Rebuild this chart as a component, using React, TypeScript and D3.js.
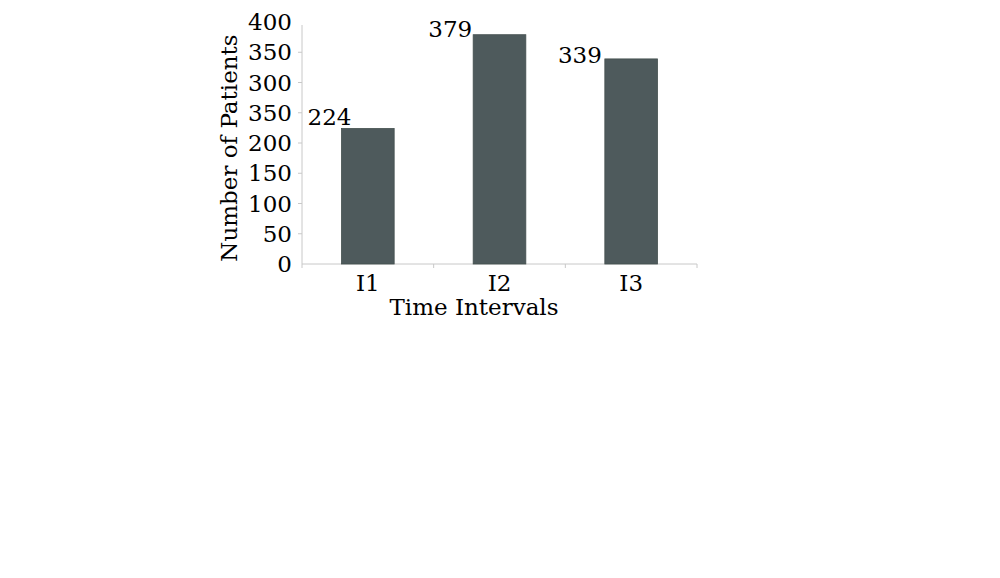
import React from "react";
import * as d3 from "d3";

const categories = ["I1", "I2", "I3"];
const values = [224, 379, 339];
const tickValues = [0, 50, 100, 150, 200, 250, 300, 350, 400];
const tickLabels = ["0", "50", "100", "150", "200", "350", "300", "350", "400"];
const yTitle = "Number of Patients";
const xTitle = "Time Intervals";

export default function App() {
  const W = 1000, H = 578;
  const left = 302, right = 697, top = 22, bottom = 264;
  const x = d3.scaleBand<string>().domain(categories).range([left, right]).paddingInner(0.6).paddingOuter(0.3);
  const xb = d3.scaleBand<string>().domain(categories).range([left, right]);
  const y = d3.scaleLinear().domain([0, 400]).range([bottom, top]);
  const font = "'DejaVu Serif', serif";
  const fs = 23;
  const axisColor = "#c8c8c8";
  const labelDx = [10, -1, -3];
  const labelDy = [-3, 2, 4];
  return (
    <svg width={W} height={H} style={{ position: "absolute", left: 0, top: 0, background: "#fff" }} fontFamily={font}>
      <line x1={left} x2={left} y1={y(400) + 3} y2={bottom} stroke={axisColor} strokeWidth={1} />
      <line x1={left} x2={right} y1={bottom} y2={bottom} stroke={axisColor} strokeWidth={1} />
      {[...categories.map((c) => xb(c)!), right].map((t, i) => (
        <line key={i} x1={t} x2={t} y1={bottom} y2={bottom + 4} stroke={axisColor} />
      ))}
      {tickValues.slice(1, -1).map((v) => (
        <line key={"yt" + v} x1={left - 4} x2={left} y1={y(v)} y2={y(v)} stroke={axisColor} />
      ))}
      {tickValues.map((v, i) => (
        <text key={v} x={left - 10} y={y(v)} dy="0.35em" textAnchor="end" fontSize={fs} fill="#000">
          {tickLabels[i]}
        </text>
      ))}
      {categories.map((c, i) => (
        <g key={c}>
          <rect x={x(c)} y={y(values[i])} width={x.bandwidth()} height={bottom - y(values[i])} fill="#4e5a5c" stroke="#44504f" strokeWidth={0.8} />
          <text x={x(c)! + labelDx[i]} y={y(values[i]) + labelDy[i]} textAnchor="end" fontSize={fs} fill="#000">{values[i]}</text>
          <text x={xb(c)! + xb.bandwidth() / 2} y={291} textAnchor="middle" fontSize={fs} fill="#000">{c}</text>
        </g>
      ))}
      <text x={474} y={315} textAnchor="middle" fontSize={fs} fill="#000">{xTitle}</text>
      <text transform={`translate(237,${(top + bottom) / 2 + 5}) rotate(-90)`} textAnchor="middle" fontSize={fs} fill="#000">{yTitle}</text>
    </svg>
  );
}
